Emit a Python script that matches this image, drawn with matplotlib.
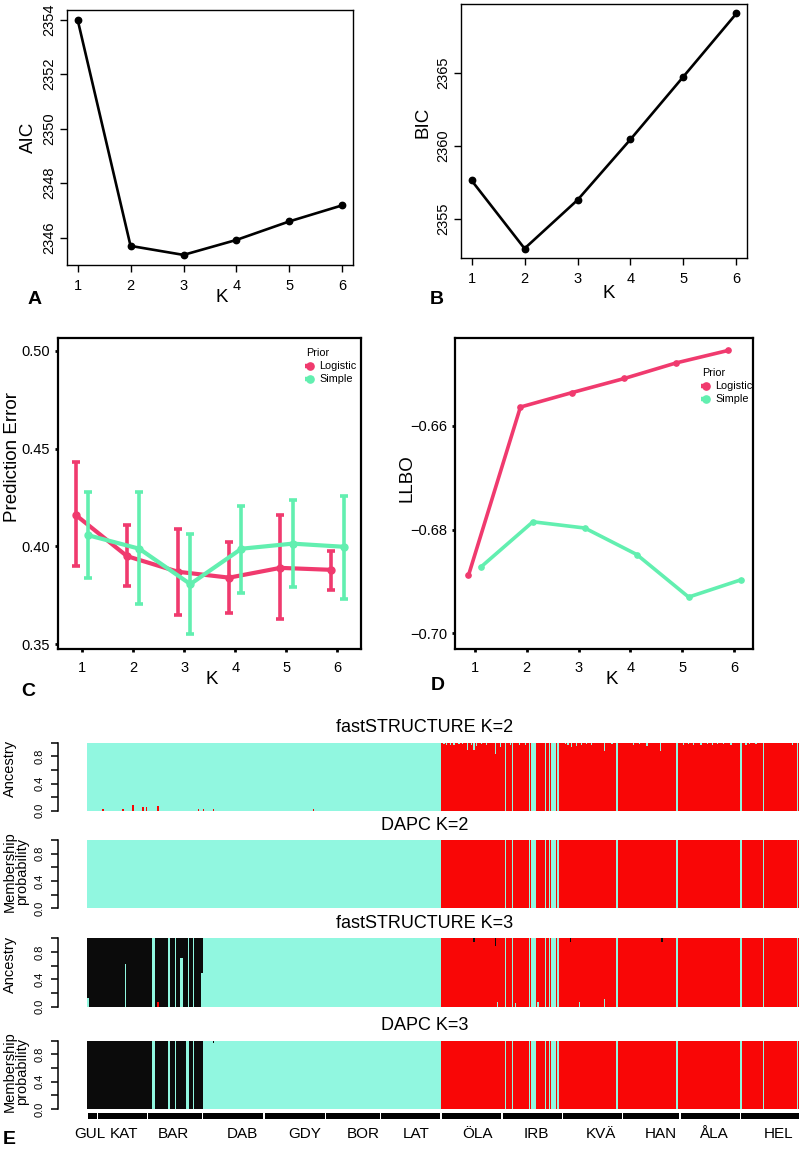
import numpy as np
import matplotlib
matplotlib.use("Agg")
import matplotlib.pyplot as plt
from matplotlib.lines import Line2D

plt.rcParams['font.family'] = ['Liberation Sans', 'DejaVu Sans']

# ---------------- data ----------------
K = [1, 2, 3, 4, 5, 6]
aic = [2354.0, 2345.70, 2345.37, 2345.92, 2346.60, 2347.19]
bic = [2357.64, 2352.97, 2356.30, 2360.46, 2364.77, 2369.10]

pe_log_mean = [0.416, 0.395, 0.387, 0.384, 0.389, 0.388]
pe_log_lo = [0.390, 0.3795, 0.365, 0.366, 0.363, 0.3776]
pe_log_hi = [0.443, 0.411, 0.409, 0.402, 0.416, 0.3975]
pe_sim_mean = [0.4057, 0.3988, 0.3807, 0.3988, 0.4014, 0.3998]
pe_sim_lo = [0.384, 0.3705, 0.3552, 0.3764, 0.379, 0.373]
pe_sim_hi = [0.4276, 0.4276, 0.4061, 0.4205, 0.4239, 0.4256]

llbo_log = [-0.6888, -0.6564, -0.6536, -0.6509, -0.6479, -0.6455]
llbo_sim = [-0.6872, -0.6785, -0.6797, -0.6848, -0.6930, -0.6897]

pops = ['GUL', 'KAT', 'BAR', 'DAB', 'GDY', 'BOR', 'LAT',
        'ÖLA', 'IRB', 'KVÄ', 'HAN', 'ÅLA', 'HEL']
pop_sizes = [8, 40, 44, 49, 49, 44, 48, 49, 48, 48, 46, 48, 47]
# main cluster of each population
k2_cluster = ['cyan'] * 7 + ['red'] * 6
k3_cluster = ['black'] * 3 + ['cyan'] * 4 + ['red'] * 6

# individuals of the red populations fully assigned to cyan
cyan_migrants = [333, 339, 352, 354, 355, 356, 357, 365, 368, 370, 371, 372,
                 373, 375, 422, 470, 521, 539, 566]

# fastSTRUCTURE K=2 admixture
fs2_red_in_cyan = {12: 0.02, 28: 0.02, 36: 0.08, 44: 0.05, 47: 0.05,
                   56: 0.07, 88: 0.03, 92: 0.02, 100: 0.03, 180: 0.02}
fs2_cyan_in_red = {284: 0.02, 286: 0.04, 289: 0.03, 292: 0.03, 296: 0.02,
                   299: 0.02, 303: 0.11, 306: 0.03, 308: 0.11, 310: 0.05,
                   314: 0.02, 318: 0.03, 325: 0.16, 329: 0.06, 337: 0.03,
                   344: 0.04, 349: 0.03, 381: 0.02, 383: 0.03, 386: 0.06,
                   390: 0.05, 394: 0.04, 398: 0.02, 402: 0.03, 412: 0.12,
                   418: 0.02, 435: 0.03, 440: 0.02, 446: 0.05, 457: 0.12,
                   475: 0.03, 479: 0.02, 483: 0.03, 489: 0.03, 494: 0.02,
                   498: 0.03, 502: 0.02, 507: 0.02, 513: 0.03, 525: 0.03,
                   528: 0.02, 533: 0.02, 562: 0.04}

# fastSTRUCTURE K=3 admixture: (cyan, red, black)
fs3_cyan_in_black = [52, 53, 64, 65, 70, 80, 84]
fs3_mixed = {0: (0.12, 0.0, 0.88), 30: (0.63, 0.0, 0.37),
             56: (0.0, 0.07, 0.93), 74: (0.71, 0.0, 0.29),
             75: (0.71, 0.0, 0.29), 91: (0.49, 0.0, 0.51),
             308: (0.0, 0.95, 0.05), 325: (0.0, 0.89, 0.11),
             385: (0.0, 0.94, 0.06), 458: (0.0, 0.94, 0.06),
             327: (0.07, 0.93, 0.0), 341: (0.05, 0.95, 0.0),
             359: (0.07, 0.93, 0.0), 392: (0.07, 0.93, 0.0),
             412: (0.11, 0.89, 0.0)}

# DAPC K=3
dapc3_cyan_in_black = [52, 53, 64, 65, 70, 79, 80, 84]
dapc3_mixed = {100: (0.97, 0.0, 0.03)}

# ---------------- style ----------------
W, H = 802, 1154
CYAN, RED, BLACK = '#91f7e0', '#f90606', '#0b0b0b'
PINK, MINT = '#f03a6e', '#62efb0'


def rect(l, t, r, b):
    return [l / W, 1 - b / H, (r - l) / W, (b - t) / H]


def ftext(x, y, s, **kw):
    kw.setdefault('ha', 'center')
    kw.setdefault('va', 'center')
    fig.text(x / W, 1 - y / H, s, **kw)


fig = plt.figure(figsize=(W / 100, H / 100), dpi=100)

# ---------------- A / B ----------------
for rc, vals, ylim, yt, lab in [
        ((67, 10, 353, 265), aic, (2345.0, 2354.35), [2346, 2348, 2350, 2352, 2354], 'AIC'),
        ((461, 4, 747, 258), bic, (2352.32, 2369.75), [2355, 2360, 2365], 'BIC')]:
    ax = fig.add_axes(rect(*rc))
    ax.plot(K, vals, color='black', lw=1.9, marker='o', ms=4.6)
    ax.set_xlim(0.8, 6.2)
    ax.set_ylim(*ylim)
    ax.set_xticks(K)
    ax.set_yticks(yt)
    for s in ax.spines.values():
        s.set_linewidth(1.0)
    ax.tick_params(direction='out', length=4.8, width=1.0, labelsize=10.5)
    ax.tick_params(axis='x', pad=5.5)
    ax.tick_params(axis='y', pad=3.2)
    plt.setp(ax.get_yticklabels(), rotation=90, va='center')

ftext(28, 137, 'AIC', rotation=90, size=13.5)
ftext(222, 298, 'K', size=13.5)
ftext(35, 299, 'A', size=14, weight='bold')
ftext(423, 122, 'BIC', rotation=90, size=13.5)
ftext(609, 293, 'K', size=13.5)
ftext(437, 300, 'B', size=14, weight='bold')

# ---------------- C / D ----------------
d = 0.12
kl = np.array(K) - d
ks = np.array(K) + d

axC = fig.add_axes(rect(58, 338, 361, 649))
for x, m, lo, hi, c in [(kl, pe_log_mean, pe_log_lo, pe_log_hi, PINK),
                        (ks, pe_sim_mean, pe_sim_lo, pe_sim_hi, MINT)]:
    m, lo, hi = np.array(m), np.array(lo), np.array(hi)
    axC.errorbar(x, m, yerr=[m - lo, hi - m], fmt='none', ecolor=c,
                 elinewidth=2.6, capsize=3.2, capthick=2.6)
    axC.plot(x, m, color=c, lw=3.0, marker='o', ms=5)
axC.set_xlim(0.53, 6.46)
axC.set_ylim(0.3475, 0.5066)
axC.set_yticks([0.35, 0.40, 0.45, 0.50])
axC.set_yticklabels(['0.35', '0.40', '0.45', '0.50'])

axD = fig.add_axes(rect(455, 338, 753, 649))
axD.plot(kl, llbo_log, color=PINK, lw=2.6, marker='o', ms=3.8)
axD.plot(ks, llbo_sim, color=MINT, lw=2.6, marker='o', ms=3.8)
axD.set_xlim(0.62, 6.36)
axD.set_ylim(-0.703, -0.6431)
axD.set_yticks([-0.70, -0.68, -0.66])
axD.set_yticklabels(['\u22120.70', '\u22120.68', '\u22120.66'])

for ax in (axC, axD):
    ax.set_xticks(K)
    for s in ax.spines.values():
        s.set_linewidth(1.6)
    ax.tick_params(direction='out', length=2.5, width=2.0, labelsize=10.5)
    ax.tick_params(axis='x', pad=6)
    ax.tick_params(axis='y', pad=3)

ftext(12.5, 457, 'Prediction Error', rotation=90, size=13.5)
ftext(212, 679, 'K', size=13.5)
ftext(28, 692, 'C', size=14, weight='bold')
ftext(407, 478, 'LLBO', rotation=90, size=13.5)
ftext(612, 679, 'K', size=13.5)
ftext(438, 685, 'D', size=14, weight='bold')


def legend(x, y):
    ftext(x - 3, y, 'Prior', ha='left', size=7.8)
    for dy, c, name in [(13, PINK, 'Logistic'), (25.5, MINT, 'Simple')]:
        yy = 1 - (y + dy) / H
        fig.add_artist(Line2D([(x - 4) / W, (x + 5) / W], [yy, yy], color=c,
                              lw=3.2, solid_capstyle='butt'))
        fig.add_artist(Line2D([(x + 0.5) / W], [yy], color=c, marker='o',
                              ms=5.2, lw=0))
        ftext(x + 10.5, y + dy, name, ha='left', size=7.8)


legend(309, 353)
legend(705, 373)

# ---------------- E ----------------
N = sum(pop_sizes)
colmap = {'cyan': 0, 'red': 1, 'black': 2}


def base_q(clusters):
    q = np.zeros((N, 3))
    q[np.arange(N), np.repeat([colmap[c] for c in clusters], pop_sizes)] = 1.0
    return q


q_fs2 = base_q(k2_cluster)
for i, v in fs2_red_in_cyan.items():
    q_fs2[i] = (1 - v, v, 0)
for i, v in fs2_cyan_in_red.items():
    q_fs2[i] = (v, 1 - v, 0)
q_fs2[cyan_migrants] = (1, 0, 0)

q_dapc2 = base_q(k2_cluster)
q_dapc2[cyan_migrants] = (1, 0, 0)

q_fs3 = base_q(k3_cluster)
q_fs3[fs3_cyan_in_black] = (1, 0, 0)
q_fs3[cyan_migrants] = (1, 0, 0)
for i, v in fs3_mixed.items():
    q_fs3[i] = v

q_dapc3 = base_q(k3_cluster)
q_dapc3[dapc3_cyan_in_black] = (1, 0, 0)
q_dapc3[cyan_migrants] = (1, 0, 0)
for i, v in dapc3_mixed.items():
    q_dapc3[i] = v

rows = [
    (742.7, 810.7, q_fs2, [1, 0], 'fastSTRUCTURE K=2', 727, 'Ancestry'),
    (840.0, 908.3, q_dapc2, [1, 0], 'DAPC K=2', 825, 'Membership\nprobability'),
    (938.3, 1006.7, q_fs3, [0, 1, 2], 'fastSTRUCTURE K=3', 923, 'Ancestry'),
    (1040.7, 1109.0, q_dapc3, [0, 1, 2], 'DAPC K=3', 1026, 'Membership\nprobability'),
]
colors = [CYAN, RED, BLACK]
x = np.arange(N)
for top, bot, q, order, title, ty, ylab in rows:
    ax = fig.add_axes(rect(87.3, top, 799.3, bot))
    bottom = np.zeros(N)
    for k in order:
        ax.bar(x, q[:, k], width=1.0, bottom=bottom, align='edge',
               color=colors[k], linewidth=0)
        bottom += q[:, k]
    ax.set_xlim(0, N)
    ax.set_ylim(0, 1)
    for s in ['top', 'right', 'bottom']:
        ax.spines[s].set_visible(False)
    ax.spines['left'].set_position(('outward', 21))
    ax.spines['left'].set_bounds(0, 1)
    ax.spines['left'].set_linewidth(1.1)
    ax.set_xticks([])
    ax.set_yticks([0, 0.2, 0.4, 0.6, 0.8, 1.0])
    ax.set_yticklabels(['0.0', '', '0.4', '', '0.8', ''])
    ax.tick_params(axis='y', length=4.8, width=1.1, labelsize=8, pad=5)
    plt.setp(ax.get_yticklabels(), rotation=90, va='center')
    ftext(425, ty, title, size=13)
    if '\n' in ylab:
        ftext(15.5, (top + bot) / 2 - 3, ylab, rotation=90, size=10.5,
              linespacing=0.85)
    else:
        ftext(10, (top + bot) / 2 - 8, ylab, rotation=90, size=10.5)

axP = fig.add_axes(rect(87.3, 1110, 799.3, 1152))
axP.set_xlim(0, N)
axP.set_ylim(1152, 1110)
axP.axis('off')
starts = np.cumsum([0] + pop_sizes[:-1])
axP.broken_barh([(s + 0.6, n - 1.2) for s, n in zip(starts, pop_sizes)],
                (1113.3, 6), facecolors='black')
label_pos = [2.2, 29.0, 68.4, 123.8, 173.4, 219.8, 262.1,
             311.3, 358.2, 409.7, 457.7, 499.8, 551.7]
for p, name in zip(label_pos, pops):
    axP.text(p, 1134, name, ha='center', va='center', size=11)
ftext(9, 1140, 'E', size=14, weight='bold')

fig.savefig('out.png', dpi=100)
